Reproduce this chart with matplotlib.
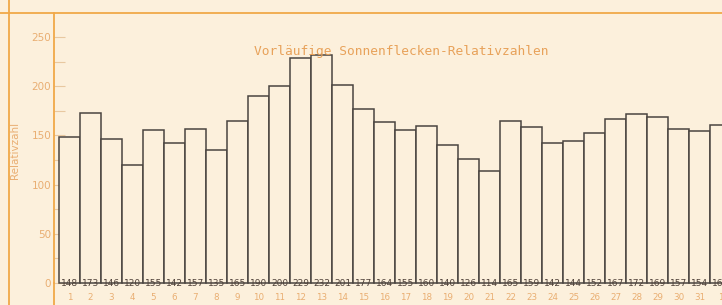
import matplotlib
matplotlib.use("Agg")
import matplotlib.pyplot as plt
from matplotlib.lines import Line2D
import numpy as np

# daily provisional sunspot numbers (last bar = first day of next month)
days = [str(d) for d in range(1, 32)] + ["1"]
values = [148, 173, 146, 120, 155, 142, 157, 135, 165, 190, 200, 229, 232, 201,
          177, 164, 155, 160, 140, 126, 114, 165, 159, 142, 144, 152, 167, 172,
          169, 157, 154, 161]
yticks_major = [0, 50, 100, 150, 200, 250]

bg = "#fcf0dc"
orange = "#f0a848"
text_orange = "#e9ae72"
bar_edge = "#4a4440"

W, H = 722, 305
fig = plt.figure(figsize=(W / 100, H / 100), dpi=100, facecolor=bg)

# axes: left spine at x=54px, zero line at y=283px, top at y=13px
ax = fig.add_axes([54 / W, (H - 283) / H, 1 - 54 / W, (283 - 13) / H])
ax.set_facecolor(bg)

px_per_bar = 21.0
x0 = 0.5 - 5 / px_per_bar
ax.set_xlim(x0, x0 + (W - 54) / px_per_bar)
px_per_unit = (283 - 37) / 250
ax.set_ylim(0, (283 - 13) / px_per_unit)

x = np.arange(1, len(values) + 1)
ax.bar(x, values, width=1.0, facecolor=bg, edgecolor=bar_edge,
       linewidth=1.1, clip_on=False, zorder=2)

for xi, v in zip(x, values):
    ax.text(xi, 0, str(v), ha="center", va="center", fontsize=6.5,
            color="#4e4038", zorder=3, clip_on=False)
for xi, d in zip(x, days):
    ax.text(xi, -14 / px_per_unit, d, ha="center", va="center", fontsize=6.3,
            color=text_orange, clip_on=False)

for s in ["top", "right", "bottom"]:
    ax.spines[s].set_visible(False)
ax.spines["left"].set_color(orange)
ax.spines["left"].set_linewidth(1.3)

ax.set_yticks(yticks_major)
ax.set_yticks(np.arange(25, 275, 50), minor=True)
ax.tick_params(axis="y", which="both", direction="in", length=8, width=0.8,
               color="#e8c8a0", labelcolor=text_orange, labelsize=7.5, pad=2)
ax.set_xticks([])

ax.set_ylabel("Relativzahl", color=text_orange, fontsize=7.5, labelpad=10)
ax.yaxis.set_label_coords(-34 / (W - 54), (283 - 150) / (283 - 13))

fig.text(401 / W, (H - 52) / H, "Vorläufige Sonnenflecken-Relativzahlen",
         fontsize=9.3, family="DejaVu Sans Mono", color="#e8a25a",
         ha="center", va="center", zorder=5)

# outer frame lines
fig.add_artist(Line2D([9 / W, 9 / W], [0, 1], color=orange, lw=1.3))
fig.add_artist(Line2D([0, 1], [(H - 13) / H, (H - 13) / H], color=orange, lw=1.3))
fig.add_artist(Line2D([54 / W, 54 / W], [0, (H - 283) / H], color=orange, lw=1.3))

fig.savefig("out.png", dpi=100, facecolor=bg)
